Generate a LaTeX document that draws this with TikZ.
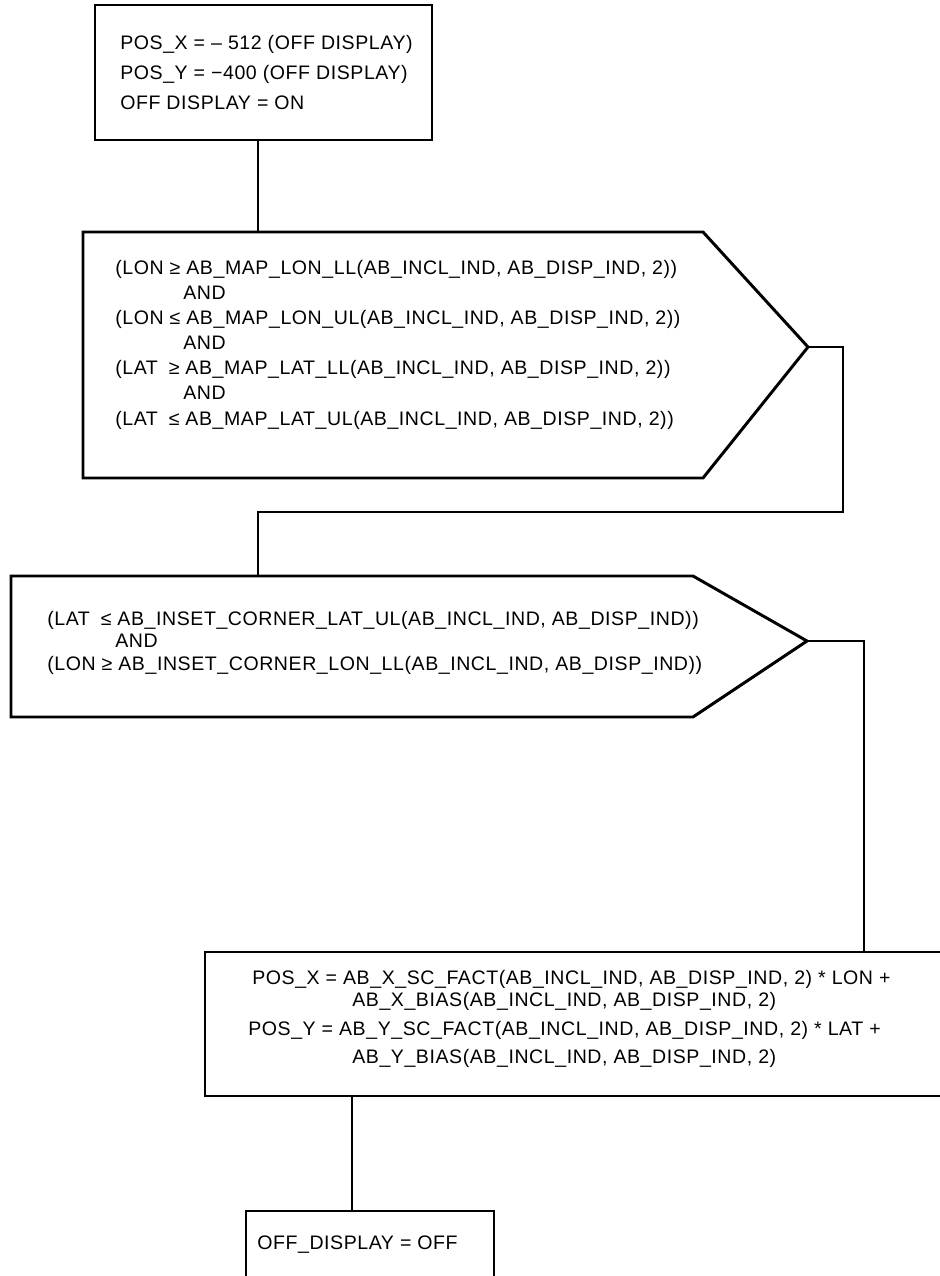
\documentclass[tikz,border=0pt]{standalone}
\usepackage{fontspec}
\setmainfont{Liberation Sans}[LetterSpace=2.9]
\usepackage{tikz}
\usetikzlibrary{positioning}

\tikzset{
  blk/.style={line width=2.1pt, line join=miter},
  conn/.style={line width=1.7pt},
  lbl/.style={inner sep=0pt, align=left, anchor=base west},
}
\newcommand{\fsz}[1]{\fontsize{13.9}{#1}\selectfont}
\newcommand{\andind}{\hspace*{1.7cm}AND}

\begin{document}
\begin{tikzpicture}[x=0.025cm,y=-0.025cm]
\useasboundingbox (0,0) rectangle (940,1276);
% start values (anchored at last baseline)
\draw[blk] (95,5) rectangle (432,140);
\node[lbl, font=\fsz{21.3pt}] (init) at (120,109)
  {POS\_X = – 512 (OFF DISPLAY)\\POS\_Y = −400 (OFF DISPLAY)\\OFF DISPLAY = ON};
\coordinate (initS) at (258,140);
% map test
\draw[blk] (83,232) -- (703,232) -- (808,347) -- (703,478) -- (83,478) -- cycle;
\node[lbl, font=\fsz{17.8pt}] (mapTest) at (115,425)
  {(LON ≥ AB\_MAP\_LON\_LL(AB\_INCL\_IND, AB\_DISP\_IND, 2))\\
   \andind\\
   (LON ≤ AB\_MAP\_LON\_UL(AB\_INCL\_IND, AB\_DISP\_IND, 2))\\
   \andind\\
   (LAT\hspace{0.25em} ≥ AB\_MAP\_LAT\_LL(AB\_INCL\_IND, AB\_DISP\_IND, 2))\\
   \andind\\
   (LAT\hspace{0.25em} ≤ AB\_MAP\_LAT\_UL(AB\_INCL\_IND, AB\_DISP\_IND, 2))};
\coordinate (mapIn) at (258,232);
\coordinate (mapOut) at (808,347);
\coordinate (mapBend) at (843,512);
% inset test
\draw[blk] (11,576) -- (693,576) -- (807,641) -- (693,717) -- (11,717) -- cycle;
\node[lbl, font=\fsz{16pt}] (insetTest) at (47,670)
  {(LAT\hspace{0.25em} ≤ AB\_INSET\_CORNER\_LAT\_UL(AB\_INCL\_IND, AB\_DISP\_IND))\\
   \andind\\
   (LON ≥ AB\_INSET\_CORNER\_LON\_LL(AB\_INCL\_IND, AB\_DISP\_IND))};
\coordinate (insetIn) at (258,576);
\coordinate (insetOut) at (807,641);
% scaled position
\draw[blk] (943,952) -- (205,952) -- (205,1096) -- (943,1096);
\node[lbl, font=\fsz{15pt}] (scalePos) at (252,1063)
  {POS\_X = AB\_X\_SC\_FACT(AB\_INCL\_IND, AB\_DISP\_IND, 2) * LON +\\
   \hspace*{2.5cm}AB\_X\_BIAS(AB\_INCL\_IND, AB\_DISP\_IND, 2)\\[6pt]
   \hspace*{-0.1cm}POS\_Y = AB\_Y\_SC\_FACT(AB\_INCL\_IND, AB\_DISP\_IND, 2) * LAT +\\[4.5pt]
   \hspace*{2.5cm}AB\_Y\_BIAS(AB\_INCL\_IND, AB\_DISP\_IND, 2)};
\coordinate (scaleN) at (864,952);
\coordinate (scaleS) at (352,1096);
% display flag
\draw[blk] (246,1290) -- (246,1211) -- (494,1211) -- (494,1290);
\node[lbl, font=\fsz{17pt}] (offFlag) at (257,1249) {OFF\_DISPLAY = OFF};
\coordinate (offN) at (352,1211);
% connectors
\draw[conn] (initS) -- (mapIn);
\draw[conn] (mapOut) -| (mapBend) -| (insetIn);
\draw[conn] (insetOut) -| (scaleN);
\draw[conn] (scaleS) -- (offN);
\end{tikzpicture}
\end{document}
